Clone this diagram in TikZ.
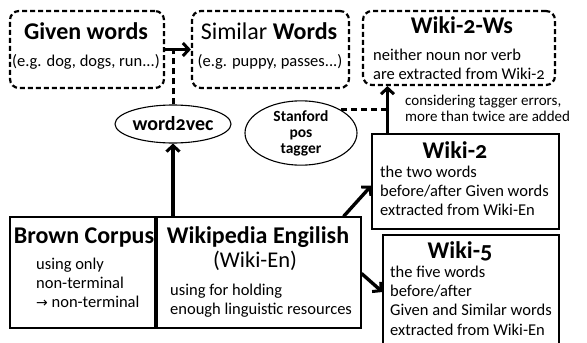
\documentclass[tikz,border=0pt]{standalone}
\usepackage{fontspec}
\setmainfont{Carlito}[Numbers=OldStyle]
\newfontfamily\arrowfont{DejaVu Sans}
\usetikzlibrary{arrows.meta, shapes.geometric}

\newcommand{\tight}{\lineskiplimit=-8pt\relax}

\begin{document}
\begin{tikzpicture}[x=1pt, y=-1pt,
	node font=\fontsize{16.5}{19}\selectfont,
	dashbox/.style={draw, line width=2.2pt, dash pattern=on 5pt off 3pt, rounded corners=9pt, inner sep=0pt},
	plainbox/.style={draw, line width=1.1pt, inner sep=0pt},
	tool/.style={draw, ellipse, line width=1.1pt, inner sep=0pt},
	ttl/.style={font=\fontsize{24}{26}\selectfont\bfseries, inner sep=0pt, anchor=base},
	txt/.style={inner sep=0pt, anchor=base west},
	flow/.style={-{Straight Barb[length=6pt, width=13pt, line width=3pt]}, line width=3.4pt},
	feed/.style={line width=3pt, dash pattern=on 6pt off 4pt}]
	\useasboundingbox (0,0) rectangle (587,343);

	% top row: dashed boxes
	\node[dashbox, minimum width=154pt, minimum height=77pt] (given) at (87,49.5) {};
	\node[ttl] (given-t) at (86,39) {Given words};
	\node[txt, anchor=base] (given-b) at (86,66) {(e.g. dog, dogs, run...)};

	\node[dashbox, minimum width=157pt, minimum height=77pt] (similar) at (270.5,49.5) {};
	\node[ttl] (similar-t) at (269,39) {\mdseries Similar \bfseries Words};
	\node[txt, anchor=base] (similar-b) at (270,66) {(e.g. puppy, passes...)};

	\node[dashbox, minimum width=192pt, minimum height=74pt] (wsws) at (459,48) {};
	\node[ttl] (wsws-t) at (462,33) {Wiki-2-Ws};
	\foreach \t [count=\i] in {neither noun nor verb, are extracted from Wiki-2}
		\node[txt] (wsws-\i) at (373,{41+19*\i}) {\t};

	% tools
	\node[tool, minimum width=116pt, minimum height=38pt, font=\fontsize{20}{22}\selectfont\bfseries] (w2v) at (173,124) {word2vec};
	\node[tool, minimum width=112pt, minimum height=52pt, align=center, font=\fontsize{15.5}{16}\selectfont\bfseries\tight] (tagger) at (301,133)
		{Stanford\\pos\\tagger};

	% corpora
	\node[plainbox, minimum width=145pt, minimum height=111pt] (brown) at (82.5,272.5) {};
	\node[ttl] (brown-t) at (84,243) {Brown Corpus};
	\foreach \t [count=\i] in {using only, non-terminal, {\arrowfont\fontsize{14}{16}\selectfont →} non-terminal}
		\node[txt] (brown-\i) at (36,{250+19*\i}) {\t};

	\node[plainbox, minimum width=204pt, minimum height=111pt] (wiki) at (259,272.5) {};
	\node[ttl] (wiki-t) at (258,243) {Wikipedia Engilish};
	\node[txt, anchor=base, font=\fontsize{22.5}{24}\selectfont] (wiki-s) at (255,267) {(Wiki-En)};
	\foreach \t [count=\i] in {using for holding, enough linguistic resources}
		\node[txt] (wiki-\i) at (170,{276+19*\i}) {\t};

	% extracted sets
	\node[plainbox, minimum width=187pt, minimum height=95pt] (wiki2) at (465.5,181.5) {};
	\node[ttl] (wiki2-t) at (455,158) {Wiki-2};
	\foreach \t [count=\i] in {the two words, before/after Given words, extracted from Wiki-En}
		\node[txt] (wiki2-\i) at (380,{158+19*\i}) {\t};

	\node[plainbox, minimum width=176pt, minimum height=110pt] (wiki5) at (471,290) {};
	\node[ttl] (wiki5-t) at (460,258) {Wiki-5};
	\foreach \t [count=\i] in {the five words, before/after, Given and Similar words, extracted from Wiki-En}
		\node[txt] (wiki5-\i) at (390,{258+19.3*\i}) {\t};

	\foreach \t [count=\i] in {{considering tagger errors,}, more than twice are added}
		\node[txt, font=\fontsize{15}{13}\selectfont] (note-\i) at (405,{90+15.5*\i}) {\t};

	% connectors
	\draw[flow] (given) -- (similar);
	\draw[feed] (w2v.north) -- (w2v.north |- given.east);
	\draw[flow] (wiki.north -| w2v.south) -- (w2v.south);
	\draw[flow] ([xshift=-18pt]wiki.north east) -- ([yshift=-4pt]wiki2.west);
	\draw[flow] ([yshift=-1pt]wiki.east) -- ([yshift=-2pt]wiki5.west);
	\coordinate (up) at ([xshift=16pt]wiki2.north west);
	\draw[flow] (up) -- (up |- wsws.south);
	\draw[feed] (tagger.30) -- (tagger.30 -| up);
\end{tikzpicture}
\end{document}
